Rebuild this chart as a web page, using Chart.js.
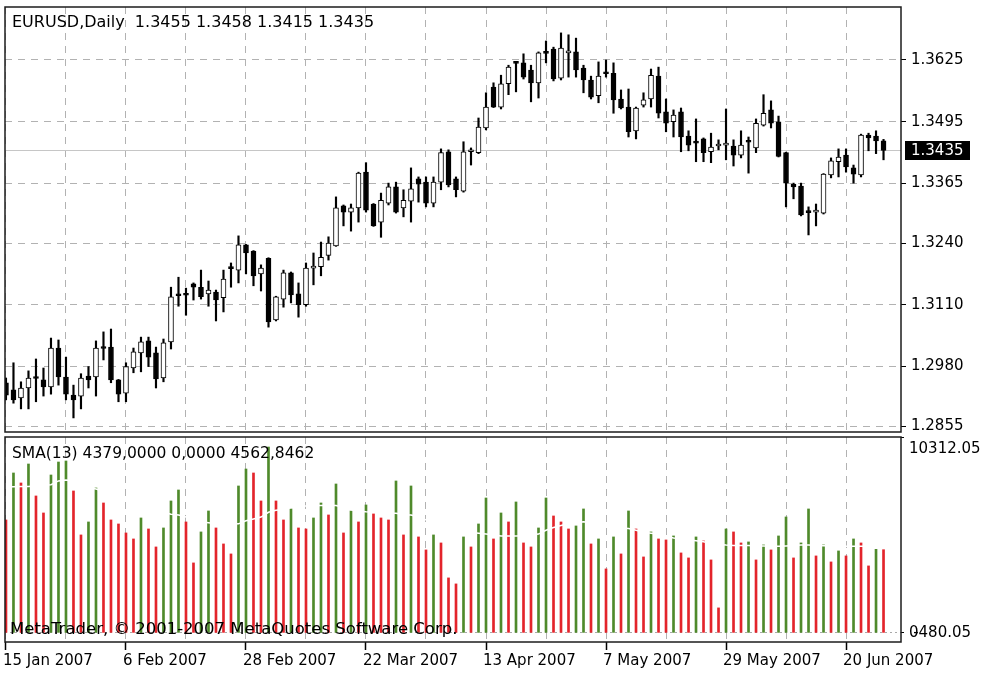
<!DOCTYPE html>
<html>
<head>
<meta charset="utf-8">
<title>EURUSD,Daily</title>
<script src="https://cdn.jsdelivr.net/npm/chart.js"></script>
<style>
  html, body { margin: 0; padding: 0; background: #fff; }
  #wrap { position: relative; width: 982px; height: 679px; overflow: hidden; }
  #wrap canvas { position: absolute; left: 0; }
  #priceCanvas { top: 0; }
  #volCanvas { top: 435px; }
</style>
</head>
<body>
<div id="wrap">
  <canvas id="priceCanvas" width="982" height="435"></canvas>
  <canvas id="volCanvas" width="982" height="244"></canvas>
</div>
<script>
// Dane (świece dzienne EURUSD, 15 Jan 2007 -> 27 Jun 2007)
const symbolName = "EURUSD,Daily";

const openPrices = [
  1.2946, 1.2931, 1.2914, 1.2935, 1.2956, 1.2952, 1.2937, 1.3019, 1.2958, 1.2920,
  1.2918, 1.2960, 1.2958, 1.3019, 1.3021, 1.2952, 1.2924, 1.2977, 1.3009, 1.3034,
  1.3009, 1.2956, 1.3032, 1.3133, 1.3131, 1.3154, 1.3147, 1.3133, 1.3137, 1.3125,
  1.3187, 1.3183, 1.3236, 1.3223, 1.3175, 1.3208, 1.3078, 1.3122, 1.3177, 1.3133,
  1.3110, 1.3187, 1.3190, 1.3214, 1.3234, 1.3318, 1.3305, 1.3314, 1.3389, 1.3322,
  1.3284, 1.3324, 1.3358, 1.3314, 1.3328, 1.3375, 1.3368, 1.3324, 1.3368, 1.3432,
  1.3375, 1.3349, 1.3432, 1.3430, 1.3482, 1.3568, 1.3526, 1.3575, 1.3619, 1.3619,
  1.3604, 1.3577, 1.3640, 1.3648, 1.3587, 1.3640, 1.3642, 1.3608, 1.3583, 1.3550,
  1.3597, 1.3597, 1.3543, 1.3526, 1.3476, 1.3530, 1.3543, 1.3591, 1.3516, 1.3495,
  1.3516, 1.3465, 1.3451, 1.3459, 1.3432, 1.3444, 1.3446, 1.3444, 1.3425, 1.3453,
  1.3440, 1.3488, 1.3520, 1.3495, 1.3430, 1.3364, 1.3360, 1.3305, 1.3305, 1.3303,
  1.3383, 1.3411, 1.3425, 1.3398, 1.3383, 1.3467, 1.3465, 1.3455
];
const highPrices = [
  1.2956, 1.2988, 1.2948, 1.2971, 1.2996, 1.2977, 1.3040, 1.3036, 1.3000, 1.2941,
  1.2965, 1.2980, 1.3034, 1.3053, 1.3059, 1.2953, 1.2988, 1.3019, 1.3042, 1.3042,
  1.3021, 1.3038, 1.3147, 1.3168, 1.3145, 1.3156, 1.3183, 1.3160, 1.3141, 1.3183,
  1.3198, 1.3255, 1.3237, 1.3224, 1.3194, 1.3209, 1.3128, 1.3183, 1.3179, 1.3156,
  1.3198, 1.3219, 1.3242, 1.3253, 1.3337, 1.3320, 1.3322, 1.3389, 1.3409, 1.3323,
  1.3345, 1.3366, 1.3368, 1.3352, 1.3398, 1.3379, 1.3379, 1.3379, 1.3438, 1.3436,
  1.3379, 1.3453, 1.3440, 1.3503, 1.3556, 1.3577, 1.3593, 1.3614, 1.3621, 1.3638,
  1.3614, 1.3642, 1.3665, 1.3652, 1.3682, 1.3678, 1.3671, 1.3614, 1.3591, 1.3621,
  1.3625, 1.3619, 1.3562, 1.3564, 1.3526, 1.3556, 1.3606, 1.3610, 1.3543, 1.3520,
  1.3524, 1.3476, 1.3501, 1.3461, 1.3471, 1.3457, 1.3522, 1.3457, 1.3476, 1.3463,
  1.3501, 1.3552, 1.3539, 1.3507, 1.3431, 1.3366, 1.3366, 1.3316, 1.3322, 1.3386,
  1.3419, 1.3438, 1.3438, 1.3404, 1.3469, 1.3471, 1.3476, 1.3458
];
const lowPrices = [
  1.2910, 1.2903, 1.2891, 1.2891, 1.2906, 1.2918, 1.2922, 1.2941, 1.2910, 1.2872,
  1.2891, 1.2935, 1.2918, 1.2994, 1.2946, 1.2906, 1.2906, 1.2967, 1.2969, 1.2980,
  1.2935, 1.2948, 1.3017, 1.3107, 1.3088, 1.3120, 1.3122, 1.3107, 1.3076, 1.3095,
  1.3147, 1.3156, 1.3175, 1.3150, 1.3139, 1.3063, 1.3076, 1.3105, 1.3114, 1.3084,
  1.3107, 1.3152, 1.3171, 1.3204, 1.3233, 1.3276, 1.3265, 1.3284, 1.3305, 1.3275,
  1.3252, 1.3320, 1.3303, 1.3295, 1.3284, 1.3326, 1.3316, 1.3316, 1.3352, 1.3358,
  1.3337, 1.3347, 1.3404, 1.3428, 1.3478, 1.3525, 1.3522, 1.3552, 1.3558, 1.3585,
  1.3537, 1.3545, 1.3619, 1.3581, 1.3583, 1.3589, 1.3589, 1.3556, 1.3543, 1.3535,
  1.3589, 1.3513, 1.3522, 1.3463, 1.3459, 1.3526, 1.3526, 1.3503, 1.3474, 1.3463,
  1.3432, 1.3434, 1.3411, 1.3411, 1.3409, 1.3436, 1.3415, 1.3402, 1.3419, 1.3387,
  1.3430, 1.3486, 1.3482, 1.3421, 1.3316, 1.3333, 1.3297, 1.3257, 1.3276, 1.3301,
  1.3377, 1.3379, 1.3389, 1.3366, 1.3379, 1.3434, 1.3428, 1.3415
];
const closePrices = [
  1.2920, 1.2910, 1.2935, 1.2956, 1.2955, 1.2937, 1.3019, 1.2958, 1.2922, 1.2910,
  1.2956, 1.2952, 1.3019, 1.3018, 1.2952, 1.2922, 1.2980, 1.3011, 1.3032, 1.3000,
  1.2954, 1.3030, 1.3127, 1.3129, 1.3130, 1.3147, 1.3127, 1.3141, 1.3120, 1.3164,
  1.3186, 1.3236, 1.3219, 1.3171, 1.3187, 1.3074, 1.3127, 1.3177, 1.3131, 1.3110,
  1.3187, 1.3188, 1.3210, 1.3240, 1.3314, 1.3305, 1.3314, 1.3387, 1.3309, 1.3276,
  1.3330, 1.3358, 1.3305, 1.3330, 1.3354, 1.3364, 1.3324, 1.3368, 1.3430, 1.3362,
  1.3352, 1.3432, 1.3433, 1.3484, 1.3526, 1.3526, 1.3575, 1.3610, 1.3618, 1.3589,
  1.3577, 1.3640, 1.3639, 1.3585, 1.3650, 1.3641, 1.3604, 1.3583, 1.3547, 1.3591,
  1.3596, 1.3541, 1.3524, 1.3474, 1.3524, 1.3541, 1.3593, 1.3513, 1.3492, 1.3509,
  1.3463, 1.3446, 1.3450, 1.3430, 1.3442, 1.3445, 1.3447, 1.3425, 1.3446, 1.3452,
  1.3492, 1.3513, 1.3492, 1.3422, 1.3366, 1.3358, 1.3299, 1.3304, 1.3306, 1.3385,
  1.3413, 1.3421, 1.3400, 1.3385, 1.3467, 1.3461, 1.3455, 1.3435
];

// Wolumen (tick volume) i SMA(13)
const volumes = [
  5945, 8418, 7892, 8891, 7208, 6313, 8312, 8996, 9049, 7471,
  5156, 5840, 7628, 6839, 5945, 5734, 5261, 4945, 6050, 5471,
  4524, 5524, 6945, 7523, 5840, 3683, 5314, 6418, 5524, 4682,
  4156, 7734, 8628, 8418, 6945, 9785, 6945, 5945, 6524, 5524,
  5471, 6050, 6839, 6208, 7839, 5261, 6418, 5840, 6734, 6261,
  6050, 5945, 7997, 5156, 7734, 5051, 4367, 5156, 4735, 2894,
  2578, 5051, 4524, 5734, 7102, 4945, 6313, 5840, 6892, 4735,
  4524, 5524, 7102, 6155, 5840, 5471, 5629, 6524, 4682, 4945,
  3367, 5051, 4156, 6418, 5471, 3998, 5314, 4945, 4893, 5103,
  4209, 3946, 5051, 4840, 3841, 1315, 5471, 5314, 4735, 4788,
  3841, 4630, 4367, 5103, 6103, 3946, 4735, 6524, 4051, 4630,
  3735, 4314, 4051, 4945, 4735, 3525, 4400, 4379
];
const smaVolume = [
  7680, 7690, 7700, 7710, 7750, 7780, 7800, 8000, 8050, 8000,
  7800, 7650, 7575, 7450, 7300, 7200, 7050, 6900, 6750, 6650,
  6500, 6350, 6250, 6200, 6100, 5950, 5850, 5800, 5750, 5720,
  5720, 5740, 5900, 6000, 6100, 6350, 6450, 6500, 6600, 6650,
  6680, 6700, 6700, 6720, 6700, 6600, 6480, 6400, 6380, 6370,
  6350, 6300, 6300, 6220, 6200, 6100, 5950, 5850, 5750, 5600,
  5450, 5350, 5300, 5250, 5200, 5150, 5100, 5100, 5100, 5120,
  5150, 5200, 5400, 5550, 5650, 5750, 5800, 5850, 5800, 5700,
  5600, 5550, 5520, 5500, 5400, 5300, 5250, 5200, 5100, 5000,
  4950, 4900, 4850, 4800, 4700, 4650, 4620, 4600, 4600, 4600,
  4580, 4570, 4560, 4560, 4580, 4600, 4620, 4620, 4600, 4590,
  4580, 4570, 4560, 4560, 4560, 4560, 4562, 4563
];

// Osie
const priceTicks = [1.2855, 1.2980, 1.3110, 1.3240, 1.3365, 1.3495, 1.3625];
const priceMin = 1.284238;
const priceMax = 1.37365;
const volMin = -480.05;
const volMax = 10312.05;
const gridBars = [0, 8, 16, 24, 32, 40, 48, 56, 64, 72, 80, 88, 96, 104, 112];
const dateLabels = ["15 Jan 2007", "6 Feb 2007", "28 Feb 2007", "22 Mar 2007",
                    "13 Apr 2007", "7 May 2007", "29 May 2007", "20 Jun 2007"];
const volumeInfo = "SMA(13) 4379,0000 0,0000 4562,8462";
const copyright = "MetaTrader, \u00a9 2001-2007 MetaQuotes Software Corp.";

const lastBar = closePrices.length - 1;
const xMin = -0.13;
const xMax = 119.33;

const FONT = '"DejaVu Sans", sans-serif';
const gridGray = "#b2b2b2";
const upGreen = "#4f8a2b";
const downRed = "#e3242b";

Chart.defaults.font.family = FONT;
Chart.defaults.font.size = 15;
Chart.defaults.color = "#000";
Chart.defaults.animation = false;

// wymuszenie dokładnych rozmiarów osi (bez dodatkowego paddingu od etykiet)
function fixSize(prop, size) {
  return s => {
    s[prop] = size;
    s.paddingTop = 0; s.paddingBottom = 0;
    s.paddingLeft = 0; s.paddingRight = 0;
  };
}

function drawFrame(ctx, a) {
  ctx.save();
  ctx.strokeStyle = "#1c1c1c";
  ctx.lineWidth = 1.5;
  ctx.strokeRect(a.left, a.top, a.right - a.left, a.bottom - a.top);
  ctx.restore();
}

// Panel cenowy - linia bid, ramka, tytuł
const priceOverlay = {
  id: "priceOverlay",
  beforeDatasetsDraw(chart) {
    const { ctx, chartArea: a, scales: { y } } = chart;
    const yy = Math.round(y.getPixelForValue(closePrices[lastBar])) + 0.5;
    ctx.save();
    ctx.strokeStyle = "#c6c6c6";
    ctx.lineWidth = 1;
    ctx.beginPath();
    ctx.moveTo(a.left, yy);
    ctx.lineTo(a.right, yy);
    ctx.stroke();
    ctx.restore();
  },
  afterDraw(chart) {
    const { ctx, chartArea: a, scales: { y } } = chart;
    drawFrame(ctx, a);
    ctx.save();
    ctx.font = "16px " + FONT;
    ctx.textBaseline = "middle";
    ctx.fillStyle = "#000";
    const title = symbolName + "  " + [openPrices[lastBar], highPrices[lastBar],
      lowPrices[lastBar], closePrices[lastBar]].map(v => v.toFixed(4)).join(" ");
    ctx.fillText(title, 12, 23);
    // etykieta bid
    ctx.font = "15px " + FONT;
    const yy = y.getPixelForValue(closePrices[lastBar]);
    ctx.fillRect(a.right + 4, Math.round(yy) - 9, 65, 19);
    ctx.fillStyle = "#fff";
    ctx.fillText(closePrices[lastBar].toFixed(4), a.right + 10, yy + 1);
    ctx.restore();
  }
};

// Panel wolumenu - ramka i napisy
const volumeOverlay = {
  id: "volumeOverlay",
  afterDraw(chart) {
    const { ctx, chartArea: a } = chart;
    drawFrame(ctx, a);
    ctx.save();
    ctx.textBaseline = "middle";
    ctx.fillStyle = "#000";
    ctx.font = "15.5px " + FONT;
    ctx.fillText(volumeInfo, 12, a.top + 17);
    ctx.font = "16.5px " + FONT;
    ctx.fillText(copyright, 10, a.top + 193);
    ctx.font = "15px " + FONT;
    const lx = a.right + 8;
    ctx.fillText(volMax.toFixed(2), lx, a.top + 12);
    const shift = ctx.measureText("0").width - ctx.measureText("-").width;
    ctx.fillText(volMin.toFixed(2), lx + shift, a.bottom - 9);
    ctx.restore();
  }
};

const wickData = highPrices.map((h, i) => ({ x: i, y: [lowPrices[i], h] }));
const bodyData = openPrices.map((o, i) => ({ x: i, y: [o, closePrices[i]] }));

new Chart(document.getElementById("priceCanvas"), {
  type: "bar",
  data: {
    datasets: [
      {
        label: "body",
        data: bodyData,
        backgroundColor: c => closePrices[c.dataIndex] > openPrices[c.dataIndex] ? "#fff" : "#000",
        borderColor: "#000",
        borderWidth: 1,
        borderSkipped: false,
        barThickness: 5,
        minBarLength: 2,
        grouped: false,
        order: 0,
        clip: 0
      },
      {
        label: "wick",
        data: wickData,
        backgroundColor: "#000",
        borderWidth: 0,
        barThickness: 1.5,
        grouped: false,
        order: 1,
        clip: 0
      }
    ]
  },
  options: {
    responsive: false,
    events: [],
    layout: { padding: { left: 5, top: 7, right: 0, bottom: 0 } },
    plugins: { legend: { display: false }, tooltip: { enabled: false } },
    scales: {
      x: {
        type: "linear",
        min: xMin,
        max: xMax,
        offset: false,
        afterBuildTicks: s => { s.ticks = gridBars.map(v => ({ value: v })); },
        afterFit: fixSize("height", 3),
        ticks: { display: false },
        grid: { color: gridGray, drawTicks: false, offset: false },
        border: { display: false, dash: [7, 6] }
      },
      y: {
        position: "right",
        min: priceMin,
        max: priceMax,
        afterBuildTicks: s => { s.ticks = priceTicks.map(v => ({ value: v })); },
        afterFit: fixSize("width", 81),
        ticks: { callback: v => v.toFixed(4), padding: 5, color: "#000" },
        grid: { color: gridGray, tickLength: 5, tickColor: "#000", tickWidth: 1 },
        border: { display: false, dash: [7, 6] }
      }
    }
  },
  plugins: [priceOverlay]
});

const volColors = volumes.map((v, i) => (i > 0 && v > volumes[i - 1]) ? upGreen : downRed);

new Chart(document.getElementById("volCanvas"), {
  type: "bar",
  data: {
    datasets: [
      {
        type: "line",
        label: "SMA(13)",
        data: smaVolume.map((v, i) => ({ x: i, y: v })),
        borderColor: "#fff",
        borderWidth: 1.5,
        pointRadius: 0,
        order: 0,
        clip: 0
      },
      {
        label: "Volumes",
        data: volumes.map((v, i) => ({ x: i, y: v })),
        backgroundColor: volColors,
        borderWidth: 0,
        barThickness: 2,
        grouped: false,
        order: 1,
        clip: 0
      }
    ]
  },
  options: {
    responsive: false,
    events: [],
    layout: { padding: { left: 5, top: 2, right: 0, bottom: 0 } },
    plugins: { legend: { display: false }, tooltip: { enabled: false } },
    scales: {
      x: {
        type: "linear",
        min: xMin,
        max: xMax,
        offset: false,
        afterBuildTicks: s => { s.ticks = gridBars.map(v => ({ value: v })); },
        afterFit: fixSize("height", 37),
        ticks: {
          autoSkip: false,
          maxRotation: 0,
          minRotation: 0,
          align: "start",
          labelOffset: -3,
          padding: 2,
          callback: v => (v % 16 === 0 ? dateLabels[v / 16] : "")
        },
        grid: {
          color: gridGray,
          offset: false,
          tickLength: 8,
          tickWidth: 1.5,
          tickColor: c => (c.tick && c.tick.value % 16 === 0) ? "#000" : "rgba(0,0,0,0)"
        },
        border: { display: false, dash: [7, 6] }
      },
      y: {
        position: "right",
        min: volMin,
        max: volMax,
        afterBuildTicks: s => { s.ticks = [{ value: 0 }, { value: volMax }]; },
        afterFit: fixSize("width", 81),
        ticks: { callback: v => (v === 0 ? "0" : ""), padding: 5, color: "#000" },
        grid: {
          color: c => (c.tick && c.tick.value === 0) ? "#a8a8a8" : "rgba(0,0,0,0)",
          tickLength: 3,
          tickColor: "#000"
        },
        border: { display: false, dash: [2, 3] }
      }
    }
  },
  plugins: [volumeOverlay]
});
</script>
</body>
</html>
